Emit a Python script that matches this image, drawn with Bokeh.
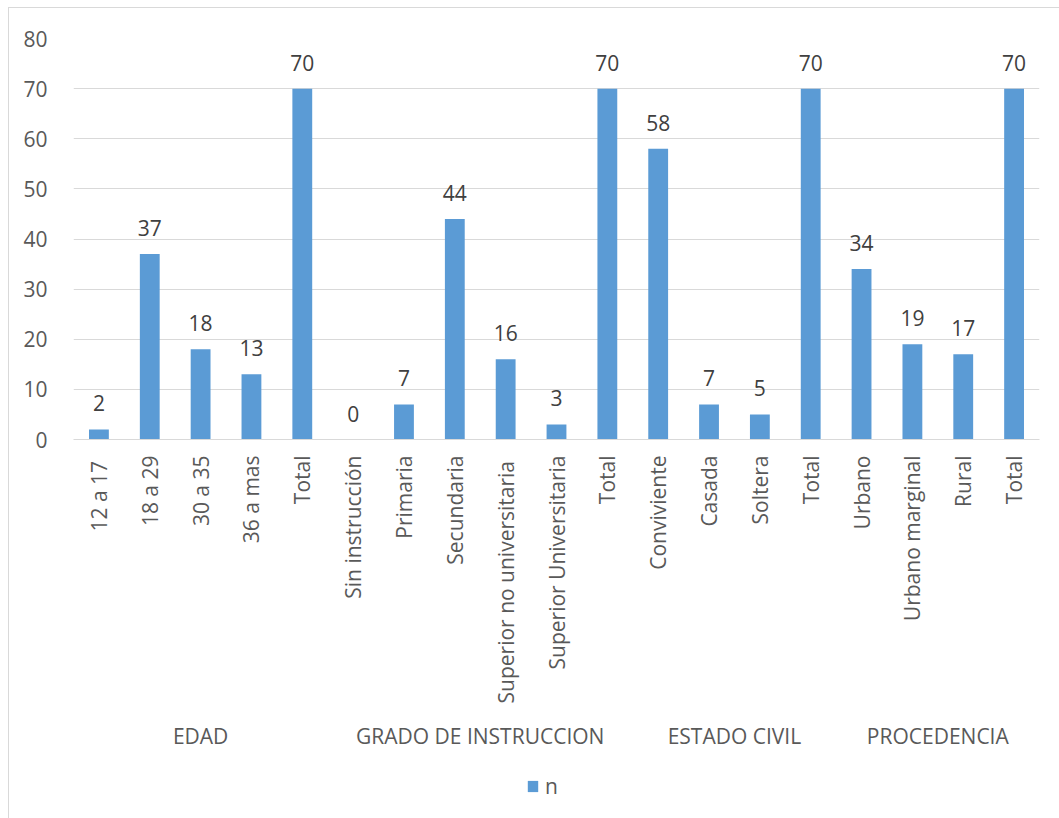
import math

from bokeh.plotting import figure
from bokeh.layouts import column
from bokeh.models import (FactorRange, ColumnDataSource, Legend, LegendItem,
                          SingleIntervalTicker, Range1d)
from bokeh.embed import file_html
from bokeh.resources import INLINE
from bokeh.core.properties import value

# Category groups and their sub-categories
edad = ["12  a 17", "18 a 29", "30 a 35", "36 a mas", "Total"]
edad_n = [2, 37, 18, 13, 70]

instruccion = ["Sin instrucción", "Primaria", "Secundaria",
               "Superior no  universitaria", "Superior Universitaria", "Total"]
instruccion_n = [0, 7, 44, 16, 3, 70]

estado_civil = ["Conviviente", "Casada", "Soltera", "Total"]
estado_civil_n = [58, 7, 5, 70]

procedencia = ["Urbano", "Urbano marginal", "Rural", "Total"]
procedencia_n = [34, 19, 17, 70]

group_names = ["EDAD", "GRADO DE INSTRUCCION", "ESTADO CIVIL", "PROCEDENCIA"]
y_ticks = [0, 10, 20, 30, 40, 50, 60, 70, 80]
series_name = "n"

FONT = "Open Sans"
SIZE = "21px"
BAR = "#5B9BD5"
AXIS_TEXT = "#595959"
VALUE_TEXT = "#404040"
GRID = "#D9D9D9"

factors, counts = [], []
for g, cats, vals in zip(group_names,
                         [edad, instruccion, estado_civil, procedencia],
                         [edad_n, instruccion_n, estado_civil_n, procedencia_n]):
    for c, v in zip(cats, vals):
        factors.append((g, c))
        counts.append(v)

src = ColumnDataSource(dict(x=factors, n=counts, lbl=[str(v) for v in counts]))

# main chart
p = figure(
    x_range=FactorRange(*factors, factor_padding=0, group_padding=0, range_padding=0),
    y_range=(y_ticks[0], y_ticks[-1]),
    width=1051, height=753,
    min_border_left=64, min_border_right=21, min_border_top=30, min_border_bottom=322,
    output_backend="svg", toolbar_location=None,
)
p.outline_line_color = None
p.background_fill_color = "white"
p.border_fill_color = "white"

bars = p.vbar(x="x", top="n", width=0.39, source=src, fill_color=BAR, line_color=None)

# value labels above each bar
p.text(x="x", y="n", text="lbl", source=src, y_offset=-18,
       text_align="center", text_baseline="bottom",
       text_font=value(FONT), text_font_size=SIZE, text_color=VALUE_TEXT)

# grid and axes
p.xgrid.grid_line_color = None
p.ygrid.grid_line_color = GRID
p.ygrid.grid_line_width = 1

p.yaxis.ticker = SingleIntervalTicker(interval=10)
p.yaxis.axis_line_color = None
p.yaxis.major_tick_line_color = None
p.yaxis.minor_tick_line_color = None
p.yaxis.major_tick_out = 0
p.yaxis.major_label_standoff = 22
p.yaxis.major_label_text_font = FONT
p.yaxis.major_label_text_font_size = SIZE
p.yaxis.major_label_text_color = AXIS_TEXT

xa = p.xaxis[0]
xa.axis_line_color = GRID
xa.major_tick_line_color = None
xa.major_tick_out = 0
xa.major_label_orientation = math.pi / 2
xa.major_label_standoff = 16
xa.major_label_text_font = FONT
xa.major_label_text_font_size = SIZE
xa.major_label_text_color = AXIS_TEXT
xa.group_label_orientation = "horizontal"
xa.group_text_font = FONT
xa.group_text_font_size = SIZE
xa.group_text_font_style = "normal"
xa.group_text_color = AXIS_TEXT
xa.separator_line_alpha = 0

# legend strip under the chart; its swatch renderer is a zero-height bar
lg = figure(width=1051, height=58, x_axis_location=None, y_axis_location=None,
            x_range=Range1d(0, 1), y_range=Range1d(0, 1),
            min_border=0, min_border_left=0, min_border_right=0,
            min_border_top=0, min_border_bottom=0,
            output_backend="svg", toolbar_location=None)
lg.outline_line_color = None
lg.grid.grid_line_color = None
lg.border_fill_color = "white"
swatch = lg.vbar(x=[0.5], top=[0], width=0.01, fill_color=BAR, line_color=None)

legend = Legend(items=[LegendItem(label=series_name, renderers=[swatch])],
                location=(453, 19), orientation="horizontal",
                padding=0, margin=0, border_line_color=None,
                background_fill_alpha=0, glyph_width=13, glyph_height=14,
                label_standoff=6, label_text_font=FONT,
                label_text_font_size=SIZE, label_text_color=AXIS_TEXT)
lg.add_layout(legend)

page = column(p, lg, spacing=0, margin=(7, 0, 0, 8))
page.styles = {"border-left": "1px solid " + GRID, "border-top": "1px solid " + GRID}

open("out.html", "w").write(file_html(page, INLINE))
